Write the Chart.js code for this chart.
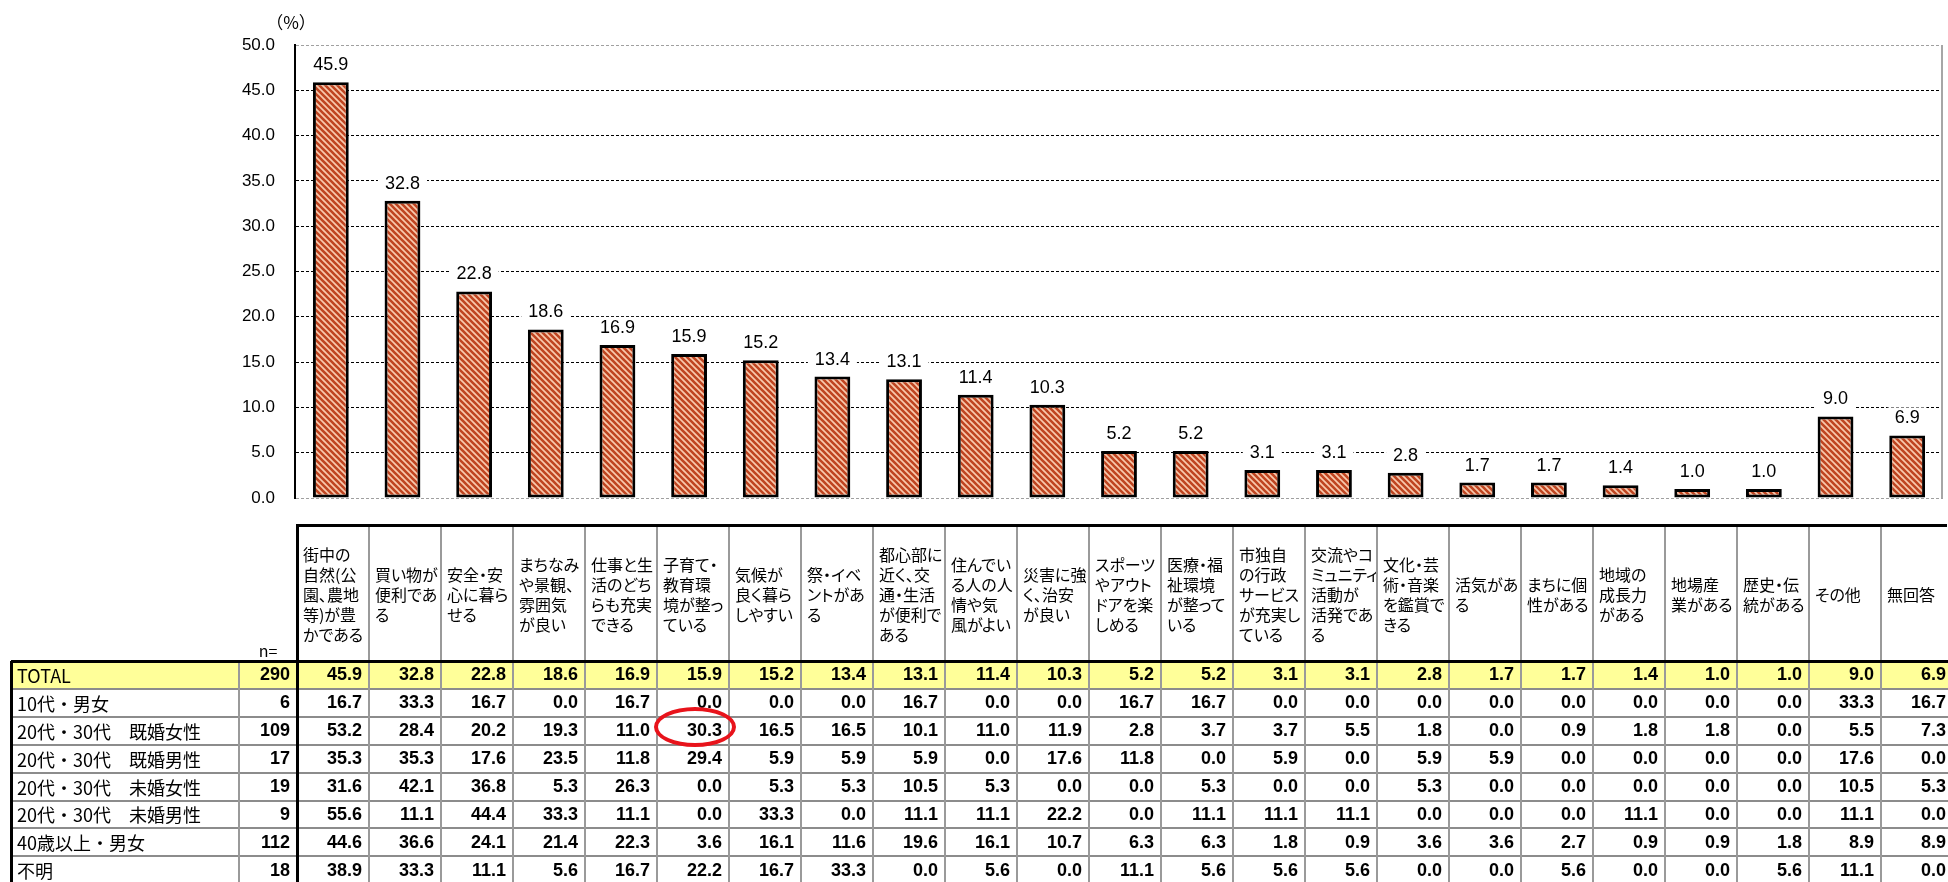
<!DOCTYPE html>
<html>
<head>
<meta charset="utf-8">
<script src="https://cdn.jsdelivr.net/npm/chart.js@4.4.0/dist/chart.umd.min.js"></script>
<style>
body{margin:0;background:#fff;width:1948px;height:882px;overflow:hidden;position:relative;}
#wrap{position:absolute;left:0;top:0;width:1948px;height:520px;}
#tbl{position:absolute;left:0;top:0;width:1948px;height:882px;}
.c{position:absolute;box-sizing:border-box;white-space:nowrap;}
.hd{font-family:"Noto Sans CJK JP";font-size:16px;line-height:20px;font-feature-settings:"palt";display:flex;align-items:center;padding-left:4px;color:#000;}
.lb{font-family:"Noto Sans CJK JP";font-size:18px;display:flex;align-items:center;padding-left:4px;color:#000;}
.num{font-family:"Liberation Sans",Arial,sans-serif;font-weight:bold;font-size:18px;display:flex;align-items:center;justify-content:flex-end;padding-right:7px;color:#000;}
</style>
</head>
<body>
<div id="wrap"><canvas id="chart" width="1948" height="520"></canvas></div>
<div id="tbl"></div>
<script>
// column headers (line breaks as in the original table)
const categories = [
  '街中の\n自然(公\n園、農地\n等)が豊\nかである', '買い物が\n便利であ\nる', '安全・安\n心に暮ら\nせる',
  'まちなみ\nや景観、\n雰囲気\nが良い', '仕事と生\n活のどち\nらも充実\nできる', '子育て・\n教育環\n境が整っ\nている',
  '気候が\n良く暮ら\nしやすい', '祭・イベ\nントがあ\nる', '都心部に\n近く、交\n通・生活\nが便利で\nある',
  '住んでい\nる人の人\n情や気\n風がよい', '災害に強\nく、治安\nが良い', 'スポーツ\nやアウト\nドアを楽\nしめる',
  '医療・福\n祉環境\nが整って\nいる', '市独自\nの行政\nサービス\nが充実し\nている', '交流やコ\nミュニティ\n活動が\n活発であ\nる',
  '文化・芸\n術・音楽\nを鑑賞で\nきる', '活気があ\nる', 'まちに個\n性がある', '地域の\n成長力\nがある',
  '地場産\n業がある', '歴史・伝\n統がある', 'その他', '無回答'
];
const yTicks = [0, 5, 10, 15, 20, 25, 30, 35, 40, 45, 50];

// TOTAL (bars) and the breakdown rows
const totalValues = [45.9, 32.8, 22.8, 18.6, 16.9, 15.9, 15.2, 13.4, 13.1, 11.4, 10.3, 5.2, 5.2, 3.1, 3.1, 2.8, 1.7, 1.7, 1.4, 1.0, 1.0, 9.0, 6.9];
const teensAll = [16.7, 33.3, 16.7, 0.0, 16.7, 0.0, 0.0, 0.0, 16.7, 0.0, 0.0, 16.7, 16.7, 0.0, 0.0, 0.0, 0.0, 0.0, 0.0, 0.0, 0.0, 33.3, 16.7];
const marriedWomen = [53.2, 28.4, 20.2, 19.3, 11.0, 30.3, 16.5, 16.5, 10.1, 11.0, 11.9, 2.8, 3.7, 3.7, 5.5, 1.8, 0.0, 0.9, 1.8, 1.8, 0.0, 5.5, 7.3];
const marriedMen = [35.3, 35.3, 17.6, 23.5, 11.8, 29.4, 5.9, 5.9, 5.9, 0.0, 17.6, 11.8, 0.0, 5.9, 0.0, 5.9, 5.9, 0.0, 0.0, 0.0, 0.0, 17.6, 0.0];
const singleWomen = [31.6, 42.1, 36.8, 5.3, 26.3, 0.0, 5.3, 5.3, 10.5, 5.3, 0.0, 0.0, 5.3, 0.0, 0.0, 5.3, 0.0, 0.0, 0.0, 0.0, 0.0, 10.5, 5.3];
const singleMen = [55.6, 11.1, 44.4, 33.3, 11.1, 0.0, 33.3, 0.0, 11.1, 11.1, 22.2, 0.0, 11.1, 11.1, 11.1, 0.0, 0.0, 0.0, 11.1, 0.0, 0.0, 11.1, 0.0];
const over40 = [44.6, 36.6, 24.1, 21.4, 22.3, 3.6, 16.1, 11.6, 19.6, 16.1, 10.7, 6.3, 6.3, 1.8, 0.9, 3.6, 3.6, 2.7, 0.9, 0.9, 1.8, 8.9, 8.9];
const unknown = [38.9, 33.3, 11.1, 5.6, 16.7, 22.2, 16.7, 33.3, 0.0, 5.6, 0.0, 11.1, 5.6, 5.6, 5.6, 0.0, 0.0, 5.6, 0.0, 0.0, 5.6, 11.1, 0.0];

const rowLabels = ['TOTAL', '10代・男女', '20代・30代　既婚女性', '20代・30代　既婚男性', '20代・30代　未婚女性', '20代・30代　未婚男性', '40歳以上・男女', '不明'];
const rowN = [290, 6, 109, 17, 19, 9, 112, 18];
const rowValues = [totalValues, teensAll, marriedWomen, marriedMen, singleWomen, singleMen, over40, unknown];

// highlighted cell (circled in red)
const markRow = 2, markCol = 5;

// striped fill for the bars
function hatch() {
  const s = 6;
  const c = document.createElement('canvas');
  c.width = s; c.height = s;
  const g = c.getContext('2d');
  g.fillStyle = '#f8c9ad';
  g.fillRect(0, 0, s, s);
  g.strokeStyle = '#bf4521';
  g.lineWidth = 2.6;
  g.beginPath();
  for (let k = -s; k <= s; k += s) {
    g.moveTo(k - 1, -1);
    g.lineTo(k + s + 1, s + 1);
  }
  g.stroke();
  return g.createPattern(c, 'repeat');
}

// value labels with white boxes, right frame line and the (%) unit
const extras = {
  id: 'extras',
  afterDatasetsDraw(chart) {
    const ctx = chart.ctx, a = chart.chartArea;
    const meta = chart.getDatasetMeta(0);
    ctx.save();
    ctx.strokeStyle = '#a6a6a6';
    ctx.lineWidth = 2;
    ctx.beginPath();
    ctx.moveTo(a.right - 1, a.top);
    ctx.lineTo(a.right - 1, a.bottom);
    ctx.stroke();

    ctx.font = '18px "Liberation Sans", Arial, sans-serif';
    ctx.textAlign = 'center';
    ctx.textBaseline = 'middle';
    meta.data.forEach((bar, i) => {
      const t = totalValues[i].toFixed(1);
      const w = ctx.measureText(t).width + 14;
      const y = bar.y - 18;
      ctx.fillStyle = '#fff';
      ctx.fillRect(bar.x - w / 2, y - 10, w, 20);
      ctx.fillStyle = '#000';
      ctx.fillText(t, bar.x, y + 1);
    });

    ctx.font = '17px "Noto Sans CJK JP"';
    ctx.fillText('（%）', a.left - 4, a.top - 22);
    ctx.restore();
  }
};

new Chart(document.getElementById('chart'), {
  type: 'bar',
  data: {
    labels: categories.map(c => c.replace(/\n/g, '')),
    datasets: [{
      data: totalValues,
      backgroundColor: hatch(),
      borderColor: '#000',
      borderWidth: 3,
      borderSkipped: false,
      categoryPercentage: 1,
      barPercentage: 0.5
    }]
  },
  options: {
    responsive: false,
    animation: false,
    devicePixelRatio: 1,
    layout: { padding: { left: 0, right: 5, top: 45, bottom: 22 } },
    plugins: { legend: { display: false }, tooltip: { enabled: false } },
    scales: {
      x: { display: false },
      y: {
        min: 0,
        max: 50,
        afterFit(s) {
          s.width = 295;
          // keep tick padding from pushing the plot area
          s.paddingTop = 0;
          s.paddingBottom = 0;
        },
        afterBuildTicks(s) { s.ticks = yTicks.map(v => ({ value: v })); },
        border: { display: true, color: '#000', width: 2, dash: [3, 2] },
        grid: {
          drawTicks: false,
          lineWidth: 1,
          color: c => (c.tick && (c.tick.value === 0 || c.tick.value === 50)) ? '#a0a0a0' : '#000'
        },
        ticks: {
          padding: 20,
          color: '#000',
          font: { family: '"Liberation Sans", Arial, sans-serif', size: 17 },
          callback: v => Number(v).toFixed(1)
        }
      }
    }
  },
  plugins: [extras]
});

// table under the chart
const T = document.getElementById('tbl');
function add(cls, x, y, w, h, html, style) {
  const d = document.createElement('div');
  d.className = cls;
  d.style.cssText = `left:${x}px;top:${y}px;width:${w}px;height:${h}px;` + (style || '');
  if (html != null) d.innerHTML = html;
  T.appendChild(d);
  return d;
}
function line(x, y, w, h, color) { add('c', x, y, w, h, null, 'background:' + color + ';'); }

const colX0 = 297, colW = 72, hdTop = 525, rowTop = 661, rowH = 27.9, labX = 11, nX = 239;
const right = 1948;

line(labX, rowTop, right - labX, rowH, '#ffff99');

categories.forEach((c, i) => add('c hd', colX0 + i * colW + 2, hdTop + 2, colW - 2, rowTop - hdTop - 2, c.replace(/\n/g, '<br>')));
add('c', nX, 641, colX0 - nX, 18, 'n=', 'font:16px "Noto Sans CJK JP";text-align:center;line-height:18px;');

rowLabels.forEach((lab, r) => {
  const y = rowTop + r * rowH;
  add('c lb', labX + 2, y, nX - labX - 2, rowH, lab);
  add('c num', nX, y, colX0 - nX, rowH, String(rowN[r]));
  rowValues[r].forEach((v, i) => add('c num', colX0 + i * colW, y, colW, rowH, v.toFixed(1)));
});

// grid lines of the table
for (let r = 1; r <= rowLabels.length; r++) line(labX, rowTop + r * rowH - 1, right - labX, 2, '#8c8c8c');
line(nX - 1, rowTop, 2, 882 - rowTop, '#9a9a9a');
for (let i = 1; i < categories.length; i++) line(colX0 + i * colW - 1, hdTop, 2, 882 - hdTop, '#9a9a9a');
line(colX0 - 1, hdTop - 1, right - colX0, 3, '#000');
line(labX, rowTop - 1.5, right - labX, 3, '#000');
line(labX - 1, rowTop, 2.5, 882 - rowTop, '#000');
line(colX0 - 1.5, hdTop, 3, 882 - hdTop, '#000');

// red circle around the highlighted cell
add('c', colX0 + markCol * colW - 3, rowTop + markRow * rowH - 10, colW + 10, rowH + 12, null,
  'border:4px solid #e8131b;border-radius:50%;');
</script>
</body>
</html>
